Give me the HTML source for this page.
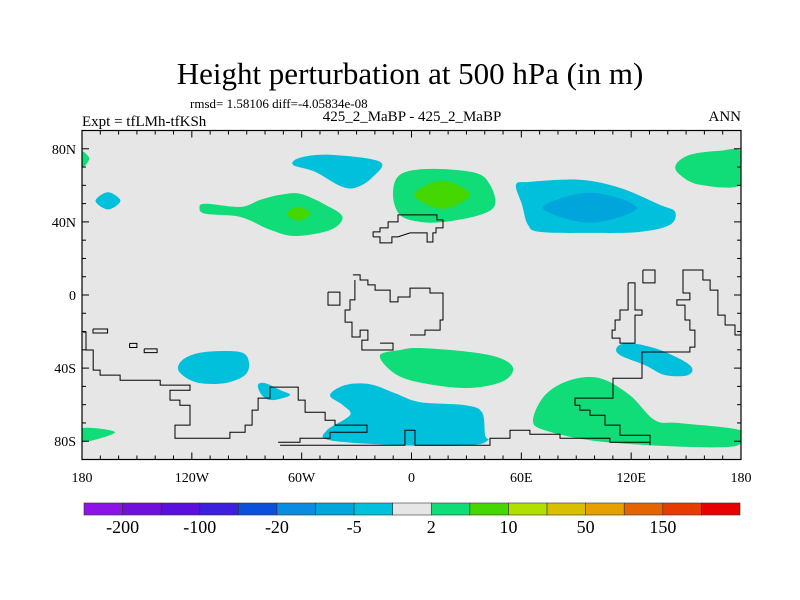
<!DOCTYPE html>
<html><head><meta charset="utf-8"><style>
html,body{margin:0;padding:0;background:#fff;}
svg{display:block;font-family:"Liberation Serif",serif;}
</style></head><body>
<svg id="chart" width="800" height="600" viewBox="0 0 800 600">
<text x="410" y="84" font-size="31" text-anchor="middle">Height perturbation at 500 hPa (in m)</text>
<text x="190" y="108" font-size="13">rmsd= 1.58106 diff=-4.05834e-08</text>
<text x="82" y="126" font-size="15">Expt = tfLMh-tfKSh</text>
<text x="412" y="121" font-size="15" text-anchor="middle">425_2_MaBP - 425_2_MaBP</text>
<text x="741" y="121" font-size="15" text-anchor="end">ANN</text>
<g id="map"></g>
<g id="axes"></g>
<g id="cbar"></g>
</svg>
<script>
// ---- data ----
const levelColors = ["#8c14e6","#7010dc","#5a10dc","#3c20dc","#0a50dc","#0a8ce0","#00a5dc","#00c0dc","#e6e6e6","#10dc78","#44d800","#b0e000","#d8c000","#e6a000","#e66400","#e63c00","#e60000"];
const cbarLabels = ["-200","-100","-20","-5","2","10","50","150"];
const lonTicks = [-180,-120,-60,0,60,120,180];
const lonLabels = ["180","120W","60W","0","60E","120E","180"];
const latTicks = [80,40,0,-40,-80];
const latLabels = ["80N","40N","0","40S","80S"];
// contour regions: level index into levelColors, polygon in [lon,lat]
const regionLevels = [7,9,7,9,10,9,10,7,6,9,7,7,9,7,7,9,9];
const regionShapes = [
 [[-64.7,71.2],[-60.9,75.1],[-44.5,76.7],[-17.2,72.9],[-21.6,64.1],[-30.9,58.6],[-39.1,59.7],[-52.7,67.4]],
 [[-180,78.4],[-176.7,76.1],[-176.2,74],[-178.4,70.7],[-180,70.7]],
 [[-172.6,51.5],[-165.8,56.2],[-159,51.5],[-165.8,46.8]],
 [[-115.8,47.7],[-112.5,49.9],[-93.4,48.2],[-82.5,52.1],[-71.6,54.8],[-60.6,55.3],[-47,49.3],[-37.7,42.7],[-44.3,35.6],[-63.4,32.3],[-77.1,35.6],[-93.4,42.7],[-112.5,44.4]],
 [[-68.3,44.4],[-61.7,48.2],[-55.1,44.4],[-61.7,40.6]],
 [[-10.1,54.8],[-6.3,65.8],[10.1,69],[34.7,66.9],[42.9,60.3],[45.6,49.3],[37.4,43.8],[18.3,40],[4.6,40],[-6.3,43.8]],
 [[1.4,54.8],[16.7,62.5],[32,54.8],[16.7,47.1]],
 [[57.1,60.3],[64.7,61.9],[92,63],[113.9,58.6],[135.8,49.3],[144,45.5],[141.2,38.4],[124.8,34.5],[97.5,34],[70.2,34.5],[63.6,38.4],[60.4,49.3]],
 [[71.8,47.7],[97.5,55.9],[123.2,47.7],[97.5,39.5]],
 [[146.6,65.8],[144.4,71.2],[152.1,76.7],[168.5,78.9],[180,78.4],[180,60.3],[157.6,60.3]],
 [[-127.6,-40],[-123.7,-34.5],[-112.8,-31.2],[-93.7,-31.2],[-88.8,-36.7],[-91,-43.8],[-101.9,-48.2],[-115.5,-48.2],[-123.7,-44.9]],
 [[-83.9,-49.3],[-80,-48.2],[-71.8,-52],[-66.4,-54.8],[-76.2,-57.5],[-81.7,-54.8]],
 [[-17.2,-32.9],[-6.3,-30.1],[4.6,-29],[32,-31.2],[48.4,-34.5],[55.5,-40],[51.1,-46.6],[37.4,-50.4],[21,-50.4],[-0.8,-46.6],[-11.7,-41.1]],
 [[-44.5,-54.8],[-36.3,-49.3],[-22.7,-48.8],[-9,-53.7],[4.6,-58.6],[29.2,-60.3],[38.5,-64.1],[40.2,-76.7],[41.8,-79.5],[32,-82.2],[-6.3,-82.2],[-44.5,-79.5],[-46.2,-74],[-33.6,-65.8],[-37.4,-60.3]],
 [[112.3,-28.5],[119.3,-26.3],[135.8,-30.1],[152.1,-38.4],[151.1,-43.8],[138.5,-43.8],[127.6,-38.4],[113.9,-32.9]],
 [[66.4,-68.5],[72.9,-54.8],[86.6,-46.6],[103,-45.5],[119.3,-54.8],[133,-68.5],[146.7,-70.1],[180,-74],[180,-81.1],[168.5,-83.3],[130.3,-82.2],[97.5,-79.5],[72.9,-74]],
 [[-180,-72.9],[-162,-75.1],[-180,-80.5]]
];
const coastLines = [
 [[-179.4,-20.3],[-177.8,-20.3],[-177.8,-30.1],[-173.9,-30.1],[-173.9,-41.1],[-170.1,-41.1],[-170.1,-43.8],[-159.2,-43.8],[-159.2,-46.6],[-137.3,-46.6],[-137.3,-49.3],[-121,-49.3],[-121,-52.1],[-131.9,-52.1],[-131.9,-57.5],[-126.5,-57.5],[-126.5,-60.3],[-121,-60.3],[-121,-71.2],[-129.2,-71.2],[-129.2,-78.4],[-99.2,-78.4],[-99.2,-75.1],[-90.9,-75.1],[-90.9,-71.2],[-87.1,-71.2],[-87.1,-63],[-83.8,-63],[-83.8,-56.4],[-77.3,-56.4],[-77.3,-50.4],[-61.9,-50.4],[-61.9,-57.5],[-58.1,-57.5],[-58.1,-64.1],[-47.2,-64.1],[-47.2,-68.5],[-41.8,-68.5],[-41.8,-71.2],[-24.3,-71.2],[-24.3,-75.1],[-44.5,-75.1],[-44.5,-78.4],[-60.9,-78.4],[-60.9,-80.6],[-72.9,-80.6]],
 [[-71.8,-82.2],[-3.6,-82.2],[-3.6,-74],[1.9,-74],[1.9,-82.2],[42.9,-82.2],[42.9,-78.4],[53.8,-78.4],[53.8,-74],[64.7,-74],[64.7,-76.2],[81.1,-76.2],[81.1,-78.4],[108.4,-78.4],[108.4,-80.6],[130.3,-80.6]],
 [[-32,11],[-28.1,11],[-28.1,8.2],[-23.8,8.2],[-23.8,5.5],[-19.9,5.5],[-19.9,2.7],[-11.7,2.7],[-11.7,-3.8],[-7.4,-3.8],[-7.4,-1.1],[-0.8,-1.1],[-0.8,3.8],[10.1,3.8],[10.1,1.1],[17.2,1.1],[17.2,-13.7],[15.6,-13.7],[15.6,-19.2],[7.4,-19.2],[7.4,-21.9],[-0.8,-21.9]],
 [[-30.9,8.2],[-30.9,-2.7],[-33.6,-2.7],[-33.6,-8.2],[-36.3,-8.2],[-36.3,-14.8],[-32.5,-14.8],[-32.5,-23],[-28.1,-23],[-28.1,-19.2],[-23.8,-19.2],[-23.8,-24.7],[-27.1,-24.7],[-27.1,-30.1],[-10.1,-30.1],[-10.1,-26.3],[-17.2,-26.3]],
 [[-45.6,1.6],[-39.1,1.6],[-39.1,-5.5],[-45.6,-5.5],[-45.6,1.6]],
 [[-21,31.8],[-21,34.5],[-17.2,34.5],[-17.2,36.7],[-12.8,36.7],[-12.8,40],[-7.4,40],[-7.4,43.8],[13.9,43.8],[13.9,41.1],[17.2,41.1],[17.2,36.7],[13.4,36.7],[13.4,34],[11.7,34],[11.7,29],[8.5,29],[8.5,34],[-0.8,34],[-7.4,31.8],[-10.7,31.8],[-10.7,28.5],[-17.2,28.5],[-17.2,31.8],[-21,31.8]],
 [[118.3,6.6],[122.1,6.6],[122.1,-8.2],[125.9,-8.2],[125.9,-11],[122.1,-11],[122.1,-26.3],[113.9,-26.3],[113.9,-23.6],[109.6,-23.6],[109.6,-19.2],[111.2,-19.2],[111.2,-13.7],[113.9,-13.7],[113.9,-8.2],[118.3,-8.2],[118.3,6.6]],
 [[180,-21.9],[176.7,-21.9],[176.7,-16.4],[171.3,-16.4],[171.3,-11],[167.4,-11],[167.4,2.7],[163.1,2.7],[163.1,8.2],[159.2,8.2],[159.2,13.7],[148.3,13.7],[148.3,1.1],[152.1,1.1],[152.1,-2.7],[145,-2.7],[145,-5.5],[149.4,-5.5],[149.4,-13.7],[152.1,-13.7],[152.1,-19.2],[154.8,-19.2],[154.8,-28.5],[152.1,-28.5],[152.1,-31.2],[125.9,-31.2],[125.9,-45.5],[110.1,-45.5],[110.1,-56.4],[89.3,-56.4],[89.3,-60.3],[92,-60.3],[92,-63],[97.5,-63],[97.5,-65.8],[105.7,-65.8],[105.7,-71.2],[113.9,-71.2],[113.9,-76.7],[130.3,-76.7],[130.3,-82.2]],
 [[126.4,13.7],[133,13.7],[133,6.6],[126.4,6.6],[126.4,13.7]],
 [[-174,-18.6],[-166,-18.6],[-166,-20.8],[-174,-20.8],[-174,-18.6]],
 [[-154,-26.5],[-150,-26.5],[-150,-28.7],[-154,-28.7],[-154,-26.5]],
 [[-146,-29.5],[-139,-29.5],[-139,-31.5],[-146,-31.5],[-146,-29.5]]
];
// ---- axes ----
const X0=82,X1=741,Y0=130.5,Y1=459.5;
function xs(lon){return X0+(lon+180)/360*(X1-X0);}
function ys(lat){return Y0+(90-lat)/180*(Y1-Y0);}
const NS="http://www.w3.org/2000/svg";
function mk(tag,attrs,parent){const e=document.createElementNS(NS,tag);for(const k in attrs)e.setAttribute(k,attrs[k]);parent.appendChild(e);return e;}
function smoothPath(pts){
  const p=pts.map(d=>[xs(d[0]),ys(d[1])]);const n=p.length;let s="M"+p[0][0].toFixed(1)+","+p[0][1].toFixed(1);
  for(let i=0;i<n;i++){const p0=p[(i-1+n)%n],p1=p[i],p2=p[(i+1)%n],p3=p[(i+2)%n];
    const c1=[p1[0]+(p2[0]-p0[0])/6,p1[1]+(p2[1]-p0[1])/6],c2=[p2[0]-(p3[0]-p1[0])/6,p2[1]-(p3[1]-p1[1])/6];
    s+="C"+c1[0].toFixed(1)+","+c1[1].toFixed(1)+" "+c2[0].toFixed(1)+","+c2[1].toFixed(1)+" "+p2[0].toFixed(1)+","+p2[1].toFixed(1);}
  return s+"Z";}
const map=document.getElementById("map");
const clip=mk("clipPath",{id:"plotclip"},mk("defs",{},map));
mk("rect",{x:X0,y:Y0,width:X1-X0,height:Y1-Y0},clip);
const bg=mk("rect",{x:X0,y:Y0,width:X1-X0,height:Y1-Y0,fill:"#e6e6e6"},map);


const rg=mk("g",{"clip-path":"url(#plotclip)"},map);
regionShapes.forEach((shape,i)=>{
  const el=mk("path",{d:smoothPath(shape),fill:levelColors[regionLevels[i]]},rg);
  
  
});
coastLines.forEach((line,i)=>{
  const el=mk("polyline",{points:line.map(d=>xs(d[0]).toFixed(1)+","+ys(d[1]).toFixed(1)).join(" "),fill:"none",stroke:"#000","stroke-width":1},rg);
  
  
});
const axes=document.getElementById("axes");
const frame=mk("rect",{x:X0,y:Y0,width:X1-X0,height:Y1-Y0,fill:"none",stroke:"#000","stroke-width":1.2},axes);


for(let lon=-180;lon<=180;lon+=10){const major=lon%60===0;const L=major?7:4;
  mk("line",{x1:xs(lon),x2:xs(lon),y1:Y1,y2:Y1-L,stroke:"#000"},axes);
  mk("line",{x1:xs(lon),x2:xs(lon),y1:Y0,y2:Y0+L,stroke:"#000"},axes);}
for(let lat=-90;lat<=90;lat+=10){const major=lat%40===0;const L=major?7:4;
  mk("line",{x1:X0,x2:X0+L,y1:ys(lat),y2:ys(lat),stroke:"#000"},axes);
  mk("line",{x1:X1,x2:X1-L,y1:ys(lat),y2:ys(lat),stroke:"#000"},axes);}
lonTicks.forEach((lon,i)=>{const t=mk("text",{x:xs(lon),y:482,"font-size":14,"text-anchor":"middle"},axes);t.textContent=lonLabels[i];
  
  });
latTicks.forEach((lat,i)=>{const t=mk("text",{x:76,y:ys(lat)+5,"font-size":14,"text-anchor":"end"},axes);t.textContent=latLabels[i];
  
  });
// colorbar
const cb=document.getElementById("cbar");const CB0=84,CB1=740,CBY=503,CBH=12;const bw=(CB1-CB0)/levelColors.length;
levelColors.forEach((c,i)=>{const r=mk("rect",{x:CB0+i*bw,y:CBY,width:bw,height:CBH,fill:c,stroke:"#333","stroke-width":0.6},cb);
  
  });
cbarLabels.forEach((l,i)=>{const t=mk("text",{x:CB0+(2*i+1)*bw,y:533,"font-size":18,"text-anchor":"middle"},cb);t.textContent=l;
  
  });
</script>
</body></html>
